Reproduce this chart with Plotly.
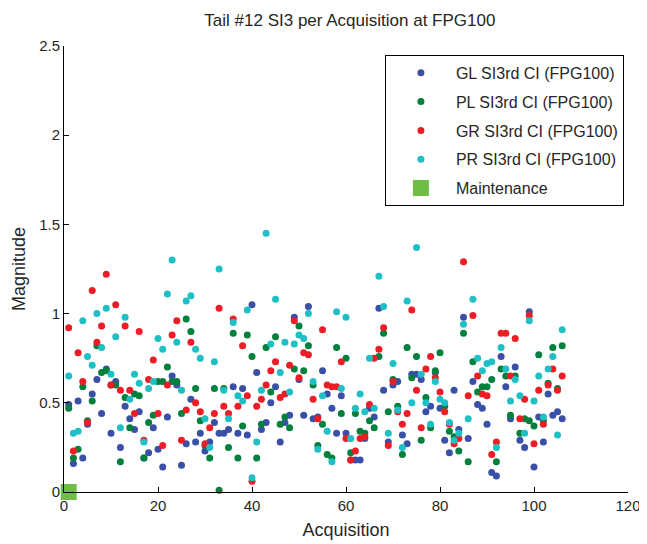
import plotly.graph_objects as go

acq = list(range(1, 107))

gl = [0.49, 0.16, 0.51, 0.19, 0.38, 0.55, 0.63, 0.44, 0.69, 0.33,
      0.62, 0.25, 0.48, 0.41, 0.35, 0.45, 0.19, 0.22, 0.36, 0.24,
      0.14, 0.42, 0.65, 0.60, 0.15, 0.27, 0.52, 0.28, 0.33, 0.23,
      0.28, 0.39, 0.33, 0.33, 0.35, 0.59, 0.33, 0.58, 0.32, 1.05,
      0.67, 0.35, 0.39, 0.50, 0.59, 0.28, 0.39, 0.43, 0.98, 0.63,
      0.43, 1.04, 0.41, 0.42, 0.68, 0.55, 0.47, 0.33, 0.54, 0.33,
      0.18, 0.18, 0.18, 0.30, 0.47, 0.42, 1.03, 0.57, 0.28, 0.60,
      0.62, 0.32, 0.27, 0.66, 0.66, 0.63, 0.45, 0.48, 0.67, 0.47,
      0.29, 0.22, 0.57, 0.35, 0.98, 0.30, 0.62, 0.49, 0.47, 0.38,
      0.11, 0.09, 0.76, 0.59, 0.41, 0.70, 0.29, 0.25, 1.01, 0.14,
      0.42, 0.28, 0.55, 0.43, 0.45, 0.41]

pl = [0.47, 0.19, 0.24, 0.59, 0.40, 0.51, 0.82, 0.67, 0.68, 0.60,
      0.60, 0.17, 0.53, 0.36, 0.55, 0.54, 0.19, 0.39, 0.43, 0.62,
      0.62, 0.70, 0.62, 0.62, 0.44, 0.97, 0.90, 0.58, 0.40, 0.26,
      0.19, 0.58, 0.01, 0.58, 0.25, 0.89, 0.19, 0.37, 0.88, 0.76,
      0.19, 0.38, 0.81, 0.56, 0.87, 0.38, 0.42, 0.36, 0.69, 0.93,
      0.68, 0.82, 0.60, 0.26, 0.38, 0.21, 0.19, 0.81, 0.44, 0.75,
      0.22, 0.44, 0.34, 0.33, 0.40, 0.36, 0.76, 0.89, 0.45, 0.63,
      0.48, 0.21, 0.81, 0.64, 0.76, 0.29, 0.53, 0.36, 0.68, 0.78,
      0.48, 0.34, 0.31, 0.23, 0.89, 0.17, 0.73, 0.56, 0.59, 0.59,
      0.63, 0.17, 0.69, 0.65, 0.43, 0.65, 0.33, 0.41, 0.40, 0.37,
      0.77, 0.40, 0.61, 0.81, 0.58, 0.82]

gr = [0.92, 0.23, 0.78, 0.62, 0.39, 1.13, 0.84, 0.93, 1.22, 0.60,
      1.05, 0.57, 0.93, 0.57, 0.44, 0.90, 0.29, 0.63, 0.74, 0.44,
      0.26, 0.60, 0.88, 0.96, 0.29, 0.46, 0.84, 0.50, 0.45, 0.27,
      0.36, 0.44, 1.03, 0.48, 0.44, 0.97, 0.48, 0.82, 0.54, 0.06,
      0.48, 0.52, 0.60, 0.68, 0.73, 0.53, 0.55, 0.71, 0.96, 0.64,
      0.78, 0.77, 0.52, 0.41, 0.91, 0.60, 0.59, 0.59, 0.73, 0.30,
      0.18, 0.23, 0.30, 0.31, 0.49, 0.75, 0.80, 0.92, 0.26, 0.62,
      0.45, 0.38, 0.44, 1.02, 0.57, 0.36, 0.69, 0.76, 0.64, 0.56,
      0.45, 0.38, 0.27, 0.30, 1.29, 0.54, 0.99, 0.65, 0.55, 0.54,
      0.21, 0.28, 0.89, 0.89, 0.65, 0.86, 0.41, 0.52, 0.99, 0.27,
      0.57, 0.38, 0.60, 0.69, 0.57, 0.65]

pr = [0.65, 0.33, 0.34, 0.96, 0.76, 0.71, 1.00, 0.81, 1.03, 0.66,
      0.87, 0.36, 0.98, 0.52, 0.66, 0.61, 0.28, 0.58, 0.62, 0.86,
      0.80, 1.11, 1.30, 0.84, 0.57, 1.07, 1.10, 0.80, 0.75, 0.41,
      0.25, 0.73, 1.25, 0.57, 0.41, 0.95, 0.54, 0.51, 1.02, 0.08,
      0.28, 0.57, 1.45, 0.83, 1.08, 0.67, 0.84, 0.56, 0.83, 0.88,
      0.86, 1.00, 0.62, 0.24, 0.54, 0.34, 0.17, 1.01, 0.58, 0.98,
      0.30, 0.47, 0.55, 0.45, 0.75, 0.47, 1.21, 1.04, 0.33, 0.72,
      0.46, 0.25, 1.07, 0.50, 1.37, 0.66, 0.50, 0.38, 0.62, 0.52,
      0.50, 0.39, 0.29, 0.33, 0.94, 0.41, 1.08, 0.75, 0.68, 0.72,
      0.73, 0.25, 0.81, 0.69, 0.51, 0.63, 0.54, 0.33, 0.96, 0.51,
      0.65, 0.42, 0.69, 0.76, 0.32, 0.91]

maint_x = [1]
maint_y = [0]

series = [
    ("GL SI3rd CI (FPG100)", gl, "#3a4fa6"),
    ("PL SI3rd CI (FPG100)", pl, "#00803c"),
    ("GR SI3rd CI (FPG100)", gr, "#ee1c25"),
    ("PR SI3rd CI (FPG100)", pr, "#1fbfc6"),
]

font = "Liberation Sans, Arial, sans-serif"

fig = go.Figure()
for name, vals, col in series:
    fig.add_trace(go.Scatter(x=acq, y=vals, mode="markers", name=name, legendgroup=name,
                             marker=dict(color=col, size=7), cliponaxis=False))

fig.add_trace(go.Scatter(x=maint_x, y=maint_y, mode="markers", name="Maintenance",
                         legendgroup="maint",
                         marker=dict(color="#6ebe46", size=16, symbol="square"),
                         cliponaxis=False))

# page body adds ~8px offset, so the figure is a bit smaller than the window
fig.update_layout(
    width=639, height=536,
    paper_bgcolor="white", plot_bgcolor="white",
    margin=dict(l=56, r=19, t=38, b=52),
    font=dict(family=font, size=15, color="#262626"),
    title=dict(text="Tail #12 SI3 per Acquisition at FPG100", x=0.535, xanchor="center",
               y=0.978, yanchor="middle", font=dict(size=17)),
    legend=dict(x=0.569, y=0.98, xanchor="left", yanchor="top",
                bordercolor="black", borderwidth=1, bgcolor="white",
                itemsizing="trace", itemwidth=60, tracegroupgap=5,
                font=dict(size=16)),
    showlegend=True,
)

fig.update_xaxes(range=[0, 120], dtick=20, showgrid=False, zeroline=False,
                 showline=True, linecolor="black", linewidth=1,
                 ticks="inside", ticklen=5, tickcolor="black", automargin=False,
                 title=dict(text="Acquisition", standoff=10))
fig.update_yaxes(range=[0, 2.5], dtick=0.5, showgrid=False, zeroline=False,
                 showline=True, linecolor="black", linewidth=1,
                 ticks="inside", ticklen=5, tickcolor="black", automargin=False,
                 tickformat="~g",
                 title=dict(text="Magnitude", standoff=8))

fig.write_html("out.html")
